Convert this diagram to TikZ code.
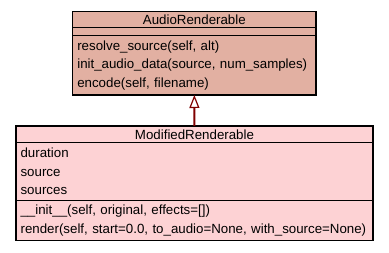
\documentclass[tikz,border=0pt]{standalone}
\usepackage{fontspec}
\setmainfont{Liberation Sans}
\usetikzlibrary{arrows.meta, positioning}
\definecolor{baseclass}{RGB}{226,176,162}
\definecolor{subclass}{RGB}{253,210,212}
\definecolor{inherit}{RGB}{128,0,0}

\begin{document}
\begin{tikzpicture}[
    x=1pt, y=-1pt,
    font=\fontsize{13.3}{18.5}\selectfont,
    part/.style={rectangle, draw, line width=1.2pt, inner ysep=0pt, inner xsep=4.6pt, outer sep=0pt, anchor=north west},
    title/.style={part, align=center},
    members/.style={part, align=left},
    arrow/.style={-{Triangle[open, width=10pt, length=13pt, line width=1.2pt]}, draw=inherit, line width=2pt}
]
    \useasboundingbox (0,0) rectangle (389,253);

    % Base class
    \node[title, fill=baseclass, minimum width=243.3pt, minimum height=16.3pt] (audio) at (72.7,11.3) {AudioRenderable};
    \node[members, fill=baseclass, minimum width=243.3pt, minimum height=7.7pt, below=0pt of audio] (audioattr) {};
    \node[members, fill=baseclass, minimum height=59.7pt, text width=234.1pt, below=0pt of audioattr] (audioops)
        {resolve\_source(self, alt)\\init\_audio\_data(source, num\_samples)\\encode(self, filename)};

    % Derived class
    \node[title, fill=subclass, minimum width=357pt, minimum height=16.7pt] (modified) at (16,126) {ModifiedRenderable};
    \node[members, fill=subclass, minimum height=58pt, text width=347.8pt, below=0pt of modified] (modattr)
        {duration\\source\\sources};
    \node[members, fill=subclass, minimum height=40pt, text width=347.8pt, below=0pt of modattr] (modops)
        {\_\_init\_\_(self, original, effects=[])\\render(self, start=0.0, to\_audio=None, with\_source=None)};

    % Inheritance
    \draw[arrow] (modified.north) -- (audioops.south);
\end{tikzpicture}
\end{document}
